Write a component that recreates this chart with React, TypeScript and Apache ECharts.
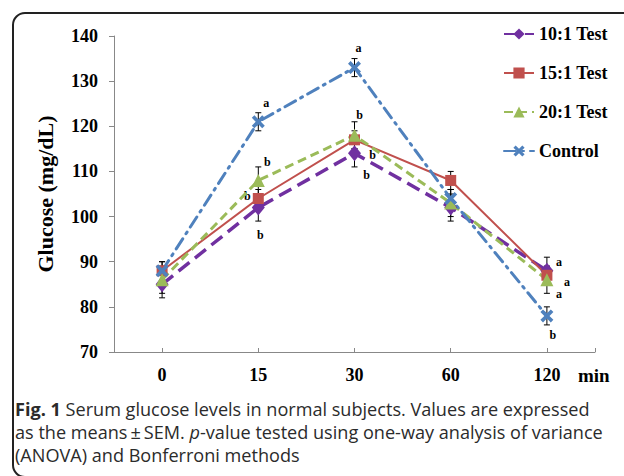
import React, { useEffect, useRef } from "react";
import * as echarts from "echarts";

const categories = ["0", "15", "30", "60", "120"];
const seriesNames = ["10:1 Test", "15:1 Test", "20:1 Test", "Control"];
const test10 = [85, 102, 114, 102, 88];
const test15 = [88, 104, 117, 108, 87];
const test20 = [86, 108, 118, 103, 86];
const control = [88, 121, 133, 104, 78];
const sem10 = [3, 3, 3, 3, 3];
const sem15 = [2, 2, 2, 2, 2];
const sem20 = [3, 3, 3, 3, 3];
const semCtrl = [2, 2, 2, 2, 2];
const sig10 = ["", "b", "b", "", "a"];
const sig15 = ["", "b", "b", "", "a"];
const sig20 = ["", "b", "b", "", "a"];
const sigCtrl = ["", "a", "a", "", "b"];
const yTicks = [70, 80, 90, 100, 110, 120, 130, 140];

// label placement (style only)
const off10 = [[0, 0], [2, 27], [12, 22], [0, 0], [12, -9]];
const off15 = [[0, 0], [-11, -3], [18, 15], [0, 0], [20, 7]];
const off20 = [[0, 0], [9, -18], [5, -20], [0, 0], [12, 14]];
const offCtrl = [[0, 0], [8, -19], [4, -20], [0, 0], [6, 19]];

const SERIF = "'Liberation Serif', 'Times New Roman', serif";
const SANS = "'Open Sans', 'Noto Sans', sans-serif";
const X_PATH =
  "path://M0,2 L2,0 L5,3 L8,0 L10,2 L7,5 L10,8 L8,10 L5,7 L2,10 L0,8 L3,5 Z";

function errSeries(name: string, vals: number[], sem: number[], sig: string[], off: number[][]) {
  return {
    type: "custom",
    name,
    z: 1,
    silent: true,
    data: vals.map((v, i) => [i, v, sem[i]]),
    renderItem: (params: any, api: any) => {
      const x = api.value(0);
      const m = api.value(1);
      const s = api.value(2);
      const t = api.coord([x, m + s]);
      const b = api.coord([x, m - s]);
      const c = api.coord([x, m]);
      const st = { stroke: "#000", lineWidth: 1 };
      const i = params.dataIndex;
      const children: any[] = [
        { type: "line", shape: { x1: t[0], y1: t[1], x2: b[0], y2: b[1] }, style: st },
        { type: "line", shape: { x1: t[0] - 3, y1: t[1], x2: t[0] + 3, y2: t[1] }, style: st },
        { type: "line", shape: { x1: b[0] - 3, y1: b[1], x2: b[0] + 3, y2: b[1] }, style: st },
      ];
      if (sig[i]) {
        children.push({
          type: "text",
          x: c[0] + off[i][0],
          y: c[1] + off[i][1],
          style: {
            text: sig[i],
            fill: "#000",
            font: "bold 12px " + SERIF,
            align: "center",
            verticalAlign: "middle",
          },
        });
      }
      return { type: "group", children };
    },
  };
}

function lineSeries(name: string, vals: number[], color: string, symbol: string, size: any, ls: any) {
  return {
    type: "line",
    name,
    z: 2,
    data: vals.map((v, i) => [i, v]),
    symbol,
    symbolSize: size,
    showAllSymbol: true,
    itemStyle: { color, borderWidth: 0 },
    lineStyle: { color, ...ls },
  };
}

export default function App() {
  const ref = useRef<HTMLDivElement>(null);
  useEffect(() => {
    const chart = echarts.init(ref.current!, null, { renderer: "svg" });
    chart.setOption({
      animation: false,
      backgroundColor: "#fff",
      grid: { left: 114, right: 29, top: 36, bottom: 124 },
      legend: {
        data: seriesNames,
        orient: "vertical",
        left: 498,
        top: 20,
        itemWidth: 30,
        itemHeight: 14,
        itemGap: 21,
        textStyle: { fontFamily: SERIF, fontWeight: "bold", fontSize: 18, color: "#000" },
      },
      xAxis: {
        type: "value",
        min: -0.5,
        max: 4.5,
        splitLine: { show: false },
        axisLine: { show: true, onZero: false, lineStyle: { color: "#888", width: 1 } },
        axisTick: {
          show: true,
          inside: true,
          length: 4,
          lineStyle: { color: "#888" },
          customValues: [0, 1, 2, 3, 4, 4.5],
        },
        axisLabel: {
          customValues: [0, 1, 2, 3, 4],
          formatter: (v: number) => categories[Math.round(v)],
          fontFamily: SERIF,
          fontWeight: "bold",
          fontSize: 18,
          color: "#000",
          margin: 14,
        },
      },
      yAxis: {
        type: "value",
        min: 70,
        max: 140,
        interval: 10,
        name: "Glucose (mg/dL)",
        nameLocation: "middle",
        nameGap: 58,
        nameTextStyle: { fontFamily: SERIF, fontWeight: "bold", fontSize: 22, color: "#000" },
        splitLine: { show: false },
        axisLine: { show: true, onZero: false, lineStyle: { color: "#888", width: 1 } },
        axisTick: { show: true, length: 5, lineStyle: { color: "#888" } },
        axisLabel: {
          formatter: (v: number) => (yTicks.includes(v) ? String(v) : ""),
          fontFamily: SERIF,
          fontWeight: "bold",
          fontSize: 18,
          color: "#000",
          margin: 16,
        },
      },
      graphic: [
        {
          type: "rect",
          shape: { x: 13, y: 13, width: 660, height: 464, r: 12 },
          style: { fill: "none", stroke: "#222", lineWidth: 2 },
          silent: true,
        },
        {
          type: "text",
          x: 578,
          y: 375,
          style: {
            text: "min",
            font: "bold 19px " + SERIF,
            fill: "#000",
            verticalAlign: "middle",
          },
        },
        {
          type: "text",
          x: 15,
          y: 397,
          style: {
            text:
              "{b|Fig. 1} Serum glucose levels in normal subjects. Values are expressed\n" +
              "as the means\u2009\u00b1\u2009SEM. {i|p}-value tested using one-way analysis of variance\n" +
              "(ANOVA) and Bonferroni methods",
            font: "18.1px " + SANS,
            fill: "#2b2b2b",
            lineHeight: 23,
            rich: {
              b: { fontWeight: "bold", fontFamily: SANS, fontSize: 18.1, fill: "#2b2b2b", lineHeight: 23 },
              i: { fontStyle: "italic", fontFamily: SANS, fontSize: 18.1, fill: "#2b2b2b", lineHeight: 23 },
            },
          },
        },
      ],
      series: [
        errSeries("e10", test10, sem10, sig10, off10),
        errSeries("e15", test15, sem15, sig15, off15),
        errSeries("e20", test20, sem20, sig20, off20),
        errSeries("eC", control, semCtrl, sigCtrl, offCtrl),
        lineSeries(seriesNames[0], test10, "#7030A0", "diamond", [13, 16], { width: 3.5, type: [14, 7] }),
        lineSeries(seriesNames[1], test15, "#C0504D", "rect", 11, { width: 2, type: "solid" }),
        lineSeries(seriesNames[2], test20, "#9BBB59", "triangle", 13, { width: 3, type: [9, 5] }),
        lineSeries(seriesNames[3], control, "#4F81BD", X_PATH, 13, { width: 3, type: [12, 6, 2, 6], cap: "round" }),
      ],
    });
    return () => chart.dispose();
  }, []);
  return (
    <div
      ref={ref}
      style={{ position: "fixed", left: 0, top: 0, width: 624, height: 476 }}
    />
  );
}
